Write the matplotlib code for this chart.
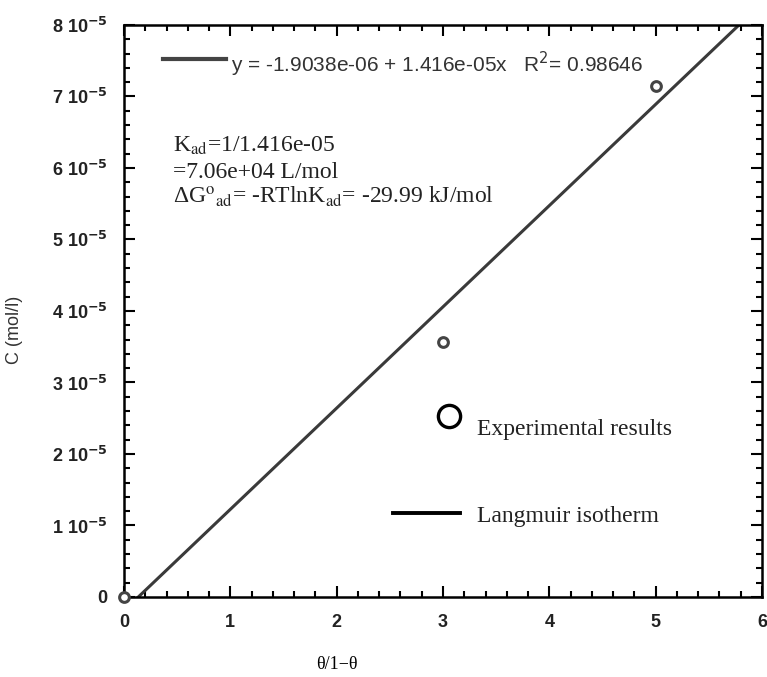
import matplotlib
matplotlib.use("Agg")
import matplotlib.pyplot as plt
from matplotlib.ticker import MultipleLocator, FuncFormatter
import numpy as np

# experimental points
theta_ratio = [0, 3, 5]
conc = [0.0, 3.57e-5, 7.15e-5]

# linear fit
intercept = -1.9038e-06
slope = 1.416e-05
r2 = 0.98646

fig = plt.figure(figsize=(7.67, 6.77), dpi=100)
ax = fig.add_axes([0.1617, 0.1182, 0.8318, 0.845])

xs = np.array([0, 6])
ax.plot(xs, intercept + slope * xs, color="#3a3a3a", lw=2.2)
ax.plot(theta_ratio, conc, "o", ms=7, mfc="white", mec="#444444", mew=2.2,
        clip_on=False, zorder=5)

ax.set_xlim(0, 6)
ax.set_ylim(0, 8e-5)
ax.xaxis.set_major_locator(MultipleLocator(1))
ax.xaxis.set_minor_locator(MultipleLocator(0.2))
ax.yaxis.set_major_locator(MultipleLocator(1e-5))
ax.yaxis.set_minor_locator(MultipleLocator(0.2e-5))
ax.tick_params(which="both", direction="in", top=True, right=True, width=1.5)
ax.tick_params(which="major", length=8, pad=12)
ax.tick_params(which="minor", length=4)
for s in ax.spines.values():
    s.set_linewidth(1.8)


def yfmt(v, pos):
    n = int(round(v / 1e-5))
    if n == 0:
        return "0"
    return f"{n} 10$^{{\\mathbf{{-5}}}}$"


ax.yaxis.set_major_formatter(FuncFormatter(yfmt))
ax.xaxis.set_major_formatter(FuncFormatter(lambda v, p: f"{int(round(v))}"))
for lab in ax.get_xticklabels() + ax.get_yticklabels():
    lab.set_fontfamily("Liberation Sans")
    lab.set_fontweight("bold")
    lab.set_fontsize(13)
    lab.set_color("#222222")

ax.set_xlabel("θ/1−θ", fontfamily="Liberation Serif", fontsize=13)
ax.xaxis.set_label_coords(2.0 / 6, -0.104)
ax.set_ylabel("C (mol/l)", fontfamily="Liberation Sans", fontsize=13,
              color="#333333")
ax.yaxis.set_label_coords(-0.158, 0.467)

# fit annotation at top
ax.plot([0.367, 0.96], [7.52e-5, 7.52e-5], color="#444444", lw=3)
ax.text(1.007, 7.34e-5,
        f"y = {intercept:.4e} + {slope:.3e}x   R$^2$= {r2}",
        fontfamily="Liberation Sans", fontsize=15, color="#333333",
        va="baseline")

serif = dict(fontfamily="Liberation Serif", fontsize=17, color="#222222",
             math_fontfamily="stix", va="baseline")
ax.text(0.46, 6.22e-5, "K$_{\\mathrm{ad}}$=1/1.416e-05", **serif)
ax.text(0.46, 5.86e-5, "=7.06e+04 L/mol", **serif)
ax.text(0.46, 5.50e-5,
        "ΔG$^{\\mathrm{o}}$$_{\\mathrm{ad}}$= -RTlnK$_{\\mathrm{ad}}$= -29.99 kJ/mol",
        **serif)

# in-plot legend
ax.plot([3.06], [2.53e-5], "o", ms=16, mfc="white", mec="black", mew=2.4)
ax.text(3.32, 2.27e-5, "Experimental results", **serif)
ax.plot([2.53, 3.16], [1.17e-5, 1.17e-5], color="black", lw=2.8)
ax.text(3.32, 1.05e-5, "Langmuir isotherm", **serif)

fig.savefig("out.png", dpi=100)
